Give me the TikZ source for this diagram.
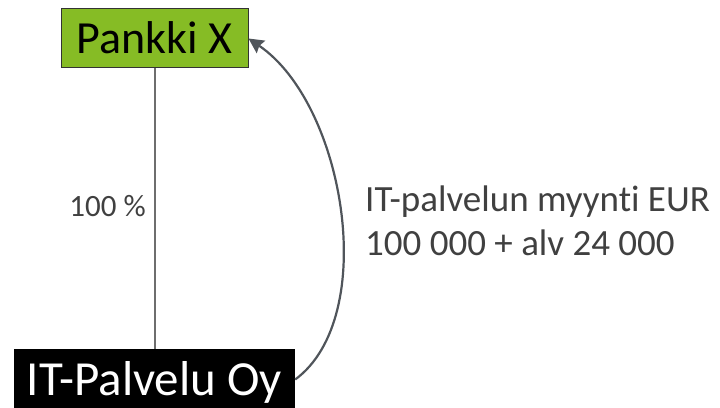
\documentclass[tikz,border=0pt]{standalone}
\usepackage{fontspec}
\setmainfont{Carlito}[Ligatures=NoCommon]
\usetikzlibrary{arrows.meta}
\definecolor{bankgreen}{RGB}{134,188,37}
\definecolor{linkgray}{RGB}{110,110,110}
\definecolor{flowgray}{RGB}{80,85,91}
\definecolor{textgray}{RGB}{64,64,64}
\tikzset{
  entity/.style={rectangle, inner sep=0pt, text depth=0pt},
  owner/.style={line width=2pt, draw=linkgray},
  flow/.style={line width=2.2pt, draw=flowgray, -{Stealth[length=15pt,width=15pt,inset=2pt]}},
  note/.style={inner sep=0pt, text=textgray}
}
\begin{document}
\begin{tikzpicture}[x=1pt,y=1pt]
\useasboundingbox (0,0) rectangle (720,407);
% parent company
\node (bank) [entity, draw=black!80, line width=1pt, fill=bankgreen,
  minimum width=187pt, minimum height=59pt, text height=29.6pt,
  font=\fontsize{46}{55}\selectfont] at (154.5,368.5) {Pankki X};
% subsidiary
\node (it) [entity, fill=black, text=white,
  minimum width=281pt, minimum height=61pt, text height=31.6pt,
  font=\fontsize{49}{59}\selectfont] at (154.5,27.5) {IT-Palvelu Oy};
% ownership link
\draw[owner] (bank.south) -- (it.north);
\node (share) [note, anchor=base east, font=\fontsize{31}{37}\selectfont]
  at (146,190) {100 \%};
% sale of IT services
\draw[flow] (it.east) .. controls (380,90) and (345,303) .. (bank.east);
\node (sale) [note, anchor=base west, align=left,
  font=\fontsize{37}{44}\selectfont] at (365,151)
  {IT-palvelun myynti EUR\\100 000 + alv 24 000};
\end{tikzpicture}
\end{document}
